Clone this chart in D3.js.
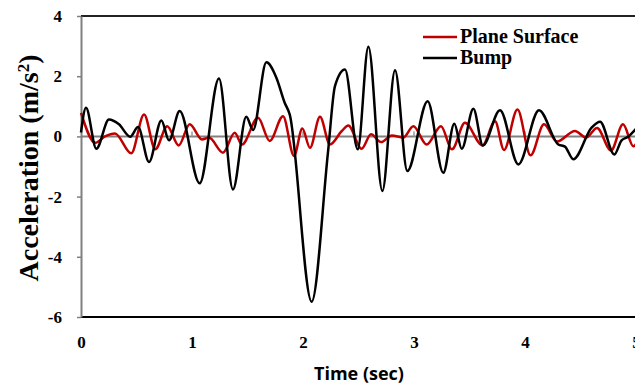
<!DOCTYPE html>
<html>
<head>
<meta charset="utf-8">
<script src="https://d3js.org/d3.v7.min.js"></script>
<style>
  body { margin: 0; background: #fff; }
  svg { display: block; }
  .serif { font-family: 'Liberation Serif', 'Times New Roman', serif; font-weight: bold; }
</style>
</head>
<body>
<script>
// values (time in sec, acceleration in m/s^2)
var planeT = [0, 0.129, 0.216, 0.306, 0.453, 0.568, 0.669, 0.777, 0.880, 0.979,
  1.09, 1.153, 1.279, 1.385, 1.45, 1.595, 1.70, 1.82, 1.919, 1.994,
  2.063, 2.153, 2.243, 2.35, 2.408, 2.528, 2.613, 2.703, 2.80, 2.904,
  2.994, 3.114, 3.243, 3.342, 3.459, 3.617, 3.73, 3.811, 3.932, 4.05,
  4.171, 4.288, 4.45, 4.55, 4.649, 4.775, 4.883, 4.977, 5.0]
var planeA = [0.78, -0.21, 0.0, 0.10, -0.56, 0.73, -0.43, 0.34, -0.30, 0.40,
  -0.10, -0.04, -0.54, 0.12, -0.27, 0.62, -0.15, 0.67, -0.65, 0.26,
  -0.38, 0.65, -0.27, 0.18, 0.36, -0.41, 0.07, -0.19, 0.03, -0.04,
  0.34, -0.27, 0.34, -0.43, 0.45, -0.30, 0.50, -0.45, 0.89, -0.63,
  0.40, -0.17, 0.18, -0.04, 0.28, -0.47, 0.40, -0.33, -0.25]

var bumpT = [0, 0.045, 0.138, 0.252, 0.342, 0.444, 0.514, 0.613, 0.724, 0.793,
  0.889, 1.069, 1.243, 1.369, 1.489, 1.55, 1.67, 1.76, 1.835, 1.88,
  2.078, 2.225, 2.288, 2.378, 2.493, 2.589, 2.715, 2.829, 2.94, 3.123,
  3.264, 3.363, 3.43, 3.535, 3.62, 3.775, 3.94, 4.126, 4.30, 4.36,
  4.435, 4.60, 4.676, 4.805, 4.87, 4.93, 5.0]
var bumpA = [0.13, 0.95, -0.41, 0.56, 0.40, -0.01, 0.31, -0.85, 0.53, -0.13,
  0.84, -1.56, 1.92, -1.76, 0.65, 0.21, 2.46, 1.95, 1.12, 0.73,
  -5.49, -0.53, 1.67, 2.22, -0.43, 2.98, -1.81, 2.20, -1.15, 1.17,
  -1.21, 0.42, -0.41, 0.92, -0.30, 0.87, -0.93, 0.87, -0.27, -0.34,
  -0.76, 0.29, 0.49, -0.60, -0.13, -0.01, 0.25]

var xTicks = [0, 1, 2, 3, 4, 5]
var yTicks = [-6, -4, -2, 0, 2, 4]
var seriesNames = ['Plane Surface', 'Bump']
var seriesColors = ['#c00000', '#000000']

var w = 635
var h = 384
var svg = d3.select('body').append('svg').attr('width', w).attr('height', h)

var xScale = d3.scaleLinear().domain([0, 5]).range([81, 636])
var yScale = d3.scaleLinear().domain([-6, 4]).range([317, 16])

// plot frame: black top and bottom
svg.append('line')
  .attr('x1', 81).attr('x2', w).attr('y1', yScale(4)).attr('y2', yScale(4))
  .attr('stroke', '#222').attr('stroke-width', 2)
svg.append('line')
  .attr('x1', 81).attr('x2', w).attr('y1', yScale(-6)).attr('y2', yScale(-6))
  .attr('stroke', '#000').attr('stroke-width', 2)

// zero line with small ticks
svg.append('line')
  .attr('x1', xScale(0)).attr('x2', w).attr('y1', yScale(0)).attr('y2', yScale(0))
  .attr('stroke', '#808080').attr('stroke-width', 2)
svg.selectAll('.xtick')
  .data(xTicks.slice(1, 5))
  .enter()
  .append('line')
  .attr('x1', function(d) { return xScale(d) })
  .attr('x2', function(d) { return xScale(d) })
  .attr('y1', yScale(0))
  .attr('y2', yScale(0) - 5)
  .attr('stroke', '#999').attr('stroke-width', 1.5)

// plain hyphen minus like the reference
var plain = function(d) { return String(d) }

// y axis
var yAxis = svg.append('g')
  .attr('transform', 'translate(' + xScale(0) + ',0)')
  .call(d3.axisLeft(yScale).tickValues(yTicks).tickFormat(plain)
    .tickSize(4).tickPadding(15).tickSizeOuter(0))
yAxis.attr('font-family', null)
yAxis.select('.domain').attr('stroke', '#808080').attr('stroke-width', 2)
yAxis.selectAll('.tick line').attr('stroke', '#808080').attr('stroke-width', 1.5)
yAxis.selectAll('text')
  .attr('class', 'serif')
  .style('font-size', '17px').attr('fill', '#000')

// x axis labels
var xAxis = svg.append('g')
  .attr('transform', 'translate(0,' + yScale(-6) + ')')
  .call(d3.axisBottom(xScale).tickValues(xTicks).tickFormat(plain)
    .tickSize(0).tickPadding(19))
xAxis.attr('font-family', null)
xAxis.select('.domain').remove()
xAxis.selectAll('text')
  .attr('class', 'serif')
  .style('font-size', '17px').attr('fill', '#000')

// titles
svg.append('text')
  .attr('x', 359).attr('y', 380)
  .attr('text-anchor', 'middle')
  .style('font-family', "'Open Sans', sans-serif")
  .style('font-weight', 'bold').style('font-size', '18px')
  .text('Time (sec)')

var yTitle = svg.append('text')
  .attr('class', 'serif')
  .attr('transform', 'translate(38,168) rotate(-90)')
  .attr('text-anchor', 'middle')
  .style('font-size', '28px')
yTitle.append('tspan').text('Acceleration (m/s')
yTitle.append('tspan').attr('baseline-shift', 'super').style('font-size', '17px').text('2')
yTitle.append('tspan').text(')')

// series lines
var series = [
  { t: planeT, a: planeA },
  { t: bumpT, a: bumpA }
]
var line = d3.line()
  .x(function(d) { return xScale(d[0]) })
  .y(function(d) { return yScale(d[1]) })
  .curve(d3.curveMonotoneX)

series.forEach(function(s, i) {
  var pts = s.t.map(function(t, j) { return [t, s.a[j]] })
  svg.append('path')
    .datum(pts)
    .attr('d', line)
    .attr('fill', 'none')
    .attr('stroke', seriesColors[i])
    .attr('stroke-width', 2.5)
    .attr('stroke-linejoin', 'round')
})

// legend
var legend = svg.selectAll('.legend')
  .data(seriesNames)
  .enter()
  .append('g')
  .attr('transform', function(d, i) { return 'translate(423,' + (37 + i * 21) + ')' })
legend.append('line')
  .attr('x1', 0).attr('x2', 34)
  .attr('stroke', function(d, i) { return seriesColors[i] })
  .attr('stroke-width', 2.5)
legend.append('text')
  .attr('class', 'serif')
  .attr('x', 37).attr('y', 6)
  .style('font-size', '20px')
  .text(function(d) { return d })
</script>
</body>
</html>
